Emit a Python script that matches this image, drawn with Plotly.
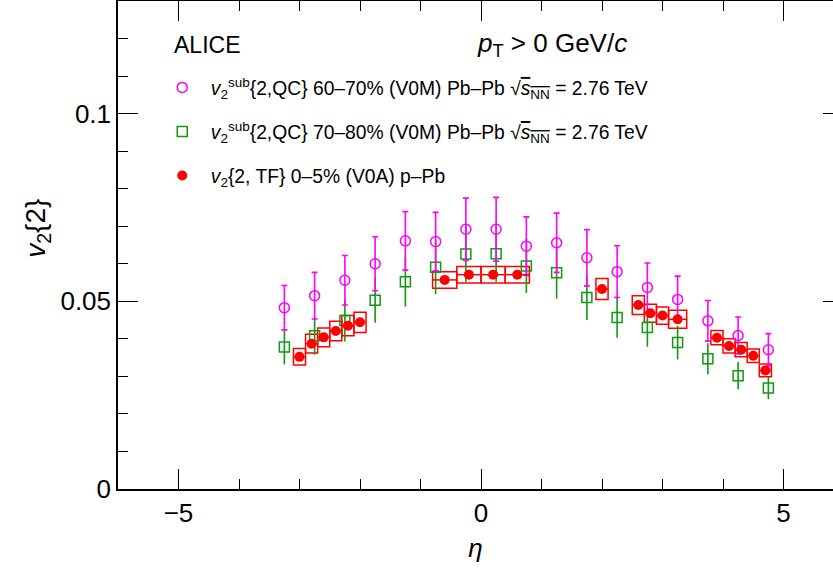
import plotly.graph_objects as go

# ---- data ----
eta_pbpb = [-3.25, -2.75, -2.25, -1.75, -1.25, -0.75, -0.25, 0.25, 0.75,
            1.25, 1.75, 2.25, 2.75, 3.25, 3.75, 4.25, 4.75]
v2_6070 = [0.0483, 0.0515, 0.0556, 0.0600, 0.0661, 0.0659, 0.0692, 0.0692, 0.0647,
           0.0656, 0.0616, 0.0579, 0.0537, 0.0505, 0.0448, 0.0409, 0.0371]
err_6070 = [0.0059, 0.0062, 0.0066, 0.0072, 0.0078, 0.0078, 0.0083, 0.0085, 0.0078,
            0.0079, 0.0075, 0.0069, 0.0065, 0.0062, 0.0054, 0.0049, 0.0043]
v2_7080 = [0.0378, 0.0408, 0.0449, 0.0503, 0.0552, 0.0591, 0.0626, 0.0627, 0.0594,
           0.0576, 0.0510, 0.0457, 0.0430, 0.0390, 0.0347, 0.0302, 0.0269]
err_7080 = [0.0046, 0.0050, 0.0056, 0.0060, 0.0066, 0.0072, 0.0075, 0.0075, 0.0072,
            0.0069, 0.0060, 0.0054, 0.0051, 0.0045, 0.0041, 0.0036, 0.0030]

eta_ppb = [-3.0, -2.8, -2.6, -2.4, -2.2, -2.0, -0.6, -0.2, 0.2, 0.6,
           2.0, 2.6, 2.8, 3.0, 3.25, 3.9, 4.1, 4.3, 4.5, 4.7]
v2_ppb = [0.0352, 0.0387, 0.0404, 0.0421, 0.0435, 0.0444, 0.0557, 0.0571, 0.0571, 0.0571,
          0.0533, 0.0490, 0.0468, 0.0462, 0.0452, 0.0403, 0.0381, 0.0371, 0.0355, 0.0316]
sys_ppb = [0.0022, 0.0025, 0.0025, 0.0026, 0.0027, 0.0027, 0.0022, 0.0022, 0.0022, 0.0022,
           0.0028, 0.0025, 0.0024, 0.0023, 0.0024, 0.0019, 0.0019, 0.0019, 0.0018, 0.0017]
hw_ppb = [0.1, 0.1, 0.1, 0.1, 0.1, 0.1, 0.2, 0.2, 0.2, 0.2,
          0.1, 0.1, 0.1, 0.1, 0.15, 0.1, 0.1, 0.1, 0.1, 0.1]

name_6070 = "<i>v</i><sub>2</sub><sup>sub</sup>{2,QC} 60–70% (V0M) Pb–Pb √<span style='text-decoration:overline'><i>s</i><sub>NN</sub></span> = 2.76 TeV"
name_7080 = "<i>v</i><sub>2</sub><sup>sub</sup>{2,QC} 70–80% (V0M) Pb–Pb √<span style='text-decoration:overline'><i>s</i><sub>NN</sub></span> = 2.76 TeV"
name_ppb = "<i>v</i><sub>2</sub>{2, TF} 0–5% (V0A) p–Pb"

MAG = "#ff00ff"
GRN = "#119911"
RED = "#ff0000"
FONT = "Liberation Sans, Arial, Helvetica, sans-serif"

fig = go.Figure()

fig.add_trace(go.Scatter(
    x=eta_pbpb, y=v2_7080, mode="markers", name=name_7080, legendrank=2, legendgroup="g2",
    marker=dict(symbol="square-open", size=10, color=GRN, line=dict(width=1.5, color=GRN)),
    error_y=dict(type="data", array=err_7080, color=GRN, thickness=1.6, width=0),
))
fig.add_trace(go.Scatter(
    x=eta_pbpb, y=v2_6070, mode="markers", name=name_6070, legendrank=1, legendgroup="g1",
    marker=dict(symbol="circle-open", size=10, color=MAG, line=dict(width=1.5, color=MAG)),
    error_y=dict(type="data", array=err_6070, color=MAG, thickness=1.6, width=3),
))
fig.add_trace(go.Bar(
    x=eta_ppb, y=[2 * s for s in sys_ppb], base=[v - s for v, s in zip(v2_ppb, sys_ppb)],
    width=[2 * h for h in hw_ppb], showlegend=False,
    marker=dict(color="rgba(0,0,0,0)", line=dict(color=RED, width=1.5)),
))
fig.add_trace(go.Scatter(
    x=eta_ppb, y=v2_ppb, mode="markers", name=name_ppb, legendrank=3, legendgroup="g3",
    marker=dict(symbol="circle", size=10, color=RED),
    error_x=dict(type="data", array=hw_ppb, color=RED, thickness=1.5, width=0),
))
# invisible trace to carry the right-hand tick axis
fig.add_trace(go.Scatter(x=[eta_pbpb[0]], y=[v2_6070[0]], yaxis="y2", mode="markers",
                         marker=dict(opacity=0), showlegend=False, hoverinfo="skip"))

fig.update_layout(
    width=833, height=572,
    margin=dict(l=118, r=0, t=1, b=83),
    paper_bgcolor="white", plot_bgcolor="white",
    font=dict(family=FONT, color="black"),
    barmode="overlay",
    showlegend=True,
    legend=dict(x=0.05, y=0.862, xanchor="left", yanchor="top",
                font=dict(size=19.3, family=FONT), bgcolor="rgba(0,0,0,0)",
                tracegroupgap=16, itemwidth=47),
    xaxis=dict(range=[-6, 5.818], showgrid=False, zeroline=False,
               showline=True, linecolor="black", linewidth=1.5, mirror="ticks",
               ticks="inside", ticklen=20, tickwidth=1.2, tickcolor="black",
               tick0=0, dtick=5, tickfont=dict(size=26),
               minor=dict(ticks="inside", ticklen=10, dtick=1, tick0=0, tickcolor="black", tickwidth=1),
               title=dict(text="<i>η</i>", font=dict(size=26), standoff=12)),
    yaxis=dict(range=[0, 0.13], showgrid=False, zeroline=False,
               showline=True, linecolor="black", linewidth=1.5, mirror=False,
               ticks="inside", ticklen=20, tickwidth=1.2, tickcolor="black",
               tick0=0, dtick=0.05, tickfont=dict(size=26),
               minor=dict(ticks="inside", ticklen=10, dtick=0.01, tick0=0, tickcolor="black", tickwidth=1)),
    yaxis2=dict(range=[0, 0.13], overlaying="y", side="right", anchor="x",
                showgrid=False, zeroline=False, showline=False, showticklabels=False,
                ticks="inside", ticklen=10, tickwidth=1.2, tickcolor="black",
                tick0=0, dtick=0.05),
)

# y-axis title (placed as in the reference, slightly above the axis centre)
fig.add_annotation(xref="paper", yref="paper", x=-0.112, y=0.535, xanchor="center", yanchor="middle",
                   text="<i>v</i><sub>2</sub>{2}", textangle=-90, showarrow=False,
                   font=dict(size=28, family=FONT))
fig.add_annotation(xref="paper", yref="paper", x=0.0755, y=0.91, xanchor="left", yanchor="middle",
                   text="ALICE", showarrow=False, font=dict(size=23, family=FONT))
fig.add_annotation(xref="paper", yref="paper", x=0.499, y=0.91, xanchor="left", yanchor="middle",
                   text="<i>p</i><sub>T</sub> > 0 GeV/<i>c</i>", showarrow=False,
                   font=dict(size=26, family=FONT))

fig.write_html("out.html")
